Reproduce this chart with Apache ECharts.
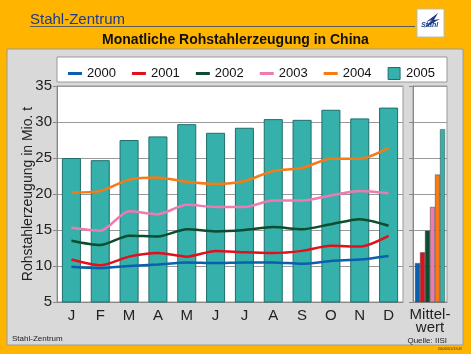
<!DOCTYPE html>
<html>
<head>
<meta charset="utf-8">
<script src="https://cdn.jsdelivr.net/npm/echarts@6/dist/echarts.min.js"></script>
<style>
html,body{margin:0;padding:0;background:#FFB400;}
#main{width:471px;height:354px;}
</style>
</head>
<body>
<div id="main"></div>
<script>
var months = ['J', 'F', 'M', 'A', 'M', 'J', 'J', 'A', 'S', 'O', 'N', 'D'];
var years = ['2000', '2001', '2002', '2003', '2004', '2005'];
var y2000 = [9.9, 9.7, 10.0, 10.2, 10.5, 10.4, 10.5, 10.5, 10.3, 10.7, 10.9, 11.4];
var y2001 = [10.9, 10.1, 11.3, 11.8, 11.3, 12.1, 11.9, 11.8, 12.1, 12.8, 12.7, 14.2];
var y2002 = [13.5, 12.9, 14.2, 14.1, 15.1, 14.8, 15.0, 15.4, 15.1, 15.8, 16.5, 15.6];
var y2003 = [15.3, 14.9, 17.6, 17.2, 18.5, 18.2, 18.2, 19.1, 19.1, 19.8, 20.4, 20.1];
var y2004 = [20.2, 20.4, 22.0, 22.3, 21.7, 21.4, 21.8, 23.2, 23.6, 24.9, 24.9, 26.4];
var y2005 = [25.0, 24.7, 27.5, 28.0, 29.7, 28.5, 29.2, 30.4, 30.3, 31.7, 30.5, 32.0];
var averages = [10.4, 11.9, 14.9, 18.2, 22.7, 29.0];
var avgLabel = ['Mittel-\nwert'];
var colors = ['#0a5fae', '#e3101b', '#0b4d2e', '#ee7bb0', '#f77a14', '#35b0ab'];

var lineData = [y2000, y2001, y2002, y2003, y2004];
var series = [];
lineData.forEach(function (d, i) {
    series.push({
        name: years[i], type: 'line', data: d, xAxisIndex: 0, yAxisIndex: 0,
        symbol: 'none', smooth: 0.25, z: 3,
        lineStyle: {color: colors[i], width: 2.5},
        itemStyle: {color: colors[i]}
    });
});
series.unshift({
    name: '2005', type: 'bar', data: y2005, xAxisIndex: 0, yAxisIndex: 0,
    barWidth: '66%', z: 2,
    itemStyle: {color: colors[5], borderColor: '#206e6a', borderWidth: 1}
});
averages.forEach(function (v, i) {
    series.push({
        name: 'Mittelwert ' + years[i], type: 'bar', data: [v], xAxisIndex: 1, yAxisIndex: 1,
        barWidth: 5, barGap: '0%',
        itemStyle: {color: colors[i], borderColor: '#444', borderWidth: 0.5}
    });
});

var lineIcon = 'path://M0,0L14,0L14,3L0,3Z';
var legendData = years.slice(0, 5).map(function (y) { return {name: y, icon: lineIcon}; });
legendData.push({name: '2005', icon: 'path://M0,0L12,0L12,12L0,12Z', itemStyle: {borderColor: '#206e6a', borderWidth: 1}});

var myChart = echarts.init(document.getElementById('main'));
var option = {
    backgroundColor: '#FFB400',
    animation: false,
    textStyle: {fontFamily: 'Liberation Sans, Arial, sans-serif'},
    title: {
        text: 'Monatliche Rohstahlerzeugung in China',
        left: 'center', top: 28,
        textStyle: {color: '#111', fontSize: 14, fontWeight: 'bold'}
    },
    graphic: [
        {type: 'rect', shape: {x: 7, y: 49, width: 456, height: 296}, style: {fill: '#d9d9d9', stroke: '#9a9a9a', lineWidth: 1}, z: -10},
        {type: 'rect', shape: {x: 57, y: 57, width: 390, height: 25}, style: {fill: '#fff', stroke: '#999', lineWidth: 1}, z: -5},
        {type: 'text', x: 30, y: 12, style: {text: 'Stahl-Zentrum', fill: '#1c3b8e', fontSize: 15, fontFamily: 'Liberation Sans'}},
        {type: 'line', shape: {x1: 30, y1: 26.5, x2: 415, y2: 26.5}, style: {stroke: '#5a5a5a', lineWidth: 1}},
        {type: 'rect', shape: {x: 417, y: 9, width: 27, height: 28}, style: {fill: '#fff', stroke: '#bbb', lineWidth: 1}},
        {type: 'polygon', shape: {points: [[438, 13], [426, 22], [432, 20], [424, 28], [440, 19], [434, 20]]}, style: {fill: '#1c3b8e'}},
        {type: 'text', x: 421, y: 22, style: {text: 'Stahl', fill: '#1c3b8e', fontSize: 7, fontWeight: 'bold', fontStyle: 'italic'}},
        {type: 'text', x: 12, y: 335, style: {text: 'Stahl-Zentrum', fill: '#222', fontSize: 8}},
        {type: 'text', x: 447, y: 337, style: {text: 'Quelle: IISI', fill: '#222', fontSize: 8, align: 'right'}},
        {type: 'text', x: 462, y: 347, style: {text: '2006/01/19-R', fill: '#333', fontSize: 4, align: 'right'}}
    ],
    legend: {
        top: 62, left: 63, itemGap: 16, itemWidth: 14, itemHeight: 12,
        textStyle: {fontSize: 13, color: '#111'},
        data: legendData
    },
    grid: [
        {left: 57, right: 68, top: 86, bottom: 52, show: true, backgroundColor: '#fff', borderColor: '#999', borderWidth: 1},
        {left: 413, right: 24, top: 86, bottom: 52, show: true, backgroundColor: '#fff', borderColor: '#999', borderWidth: 1}
    ],
    xAxis: [
        {
            type: 'category', gridIndex: 0, data: months,
            axisLine: {lineStyle: {color: '#888'}},
            axisTick: {length: 4, lineStyle: {color: '#888'}},
            axisLabel: {fontSize: 15, color: '#222', margin: 6}
        },
        {
            type: 'category', gridIndex: 1, data: avgLabel,
            axisLine: {lineStyle: {color: '#888'}},
            axisTick: {length: 4, lineStyle: {color: '#888'}},
            axisLabel: {fontSize: 15, color: '#222', margin: 6, lineHeight: 13}
        }
    ],
    yAxis: [
        {
            type: 'value', gridIndex: 0, min: 5, max: 35, interval: 5,
            name: 'Rohstahlerzeugung in Mio. t', nameLocation: 'middle', nameGap: 22,
            nameMoveOverlap: false,
            nameTextStyle: {fontSize: 14, color: '#222'},
            axisLine: {show: true, lineStyle: {color: '#888'}},
            axisTick: {show: true, length: 4, lineStyle: {color: '#888'}},
            axisLabel: {fontSize: 15, color: '#222', margin: 5},
            splitLine: {lineStyle: {color: '#999', width: 1}}
        },
        {
            type: 'value', gridIndex: 1, min: 5, max: 35, interval: 5,
            axisLine: {show: true, lineStyle: {color: '#888'}},
            axisTick: {show: true, length: 4, lineStyle: {color: '#888'}},
            axisLabel: {show: false},
            splitLine: {lineStyle: {color: '#999', width: 1}}
        }
    ],
    series: series
};
myChart.setOption(option);
</script>
</body>
</html>
